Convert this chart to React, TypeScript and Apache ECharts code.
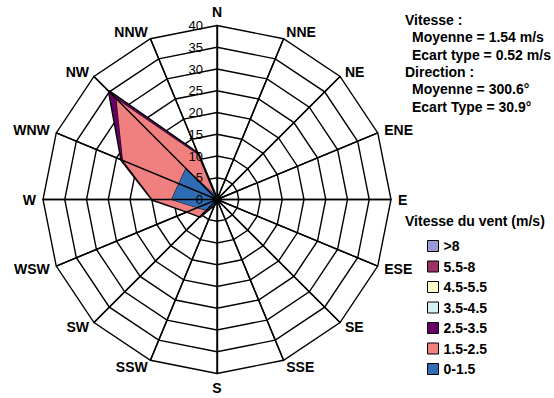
import React, { useEffect, useRef } from "react";
import * as echarts from "echarts";

// Directions, clockwise from North
const directions = ["N", "NNE", "NE", "ENE", "E", "ESE", "SE", "SSE", "S", "SSW", "SW", "WSW", "W", "WNW", "NW", "NNW"];

// Speed classes (legend order, top to bottom)
const speedBins = [">8", "5.5-8", "4.5-5.5", "3.5-4.5", "2.5-3.5", "1.5-2.5", "0-1.5"];
const binColors = ["#9a9ad8", "#993366", "#ffffcc", "#d4f0f0", "#660066", "#f08080", "#2f6db5"];

// Frequencies (%) per direction (clockwise from N) for each speed class
const freq0to15 = [0, 0, 0, 0, 0, 0, 0, 0, 0, 1, 3.5, 4.9, 10.4, 9.5, 10.1, 1];
const freq15to25 = [0, 0, 0, 0, 0, 0, 0, 0, 0, 0, 2, 2.4, 4.4, 13.9, 22.6, 10];
const freq25to35 = [0, 0, 0, 0, 0, 0, 0, 0, 0, 0, 0, 0, 0, 0.3, 2.3, 0.4];
const freq35to45 = [0, 0, 0, 0, 0, 0, 0, 0, 0, 0, 0, 0, 0, 0, 0, 0];
const freq45to55 = [0, 0, 0, 0, 0, 0, 0, 0, 0, 0, 0, 0, 0, 0, 0, 0];
const freq55to8 = [0, 0, 0, 0, 0, 0, 0, 0, 0, 0, 0, 0, 0, 0, 0, 0];
const freqAbove8 = [0, 0, 0, 0, 0, 0, 0, 0, 0, 0, 0, 0, 0, 0, 0, 0];

const radiusMax = 40;
const radiusStep = 5;

const statsLines = [
  { text: "Vitesse :", indent: false },
  { text: "Moyenne = 1.54 m/s", indent: true },
  { text: "Ecart type = 0.52 m/s", indent: true },
  { text: "Direction :", indent: false },
  { text: "Moyenne = 300.6°", indent: true },
  { text: "Ecart Type = 30.9°", indent: true },
];
const legendTitle = "Vitesse du vent (m/s)";

const FONT = "'Liberation Sans', Arial, Helvetica, sans-serif";

export default function App() {
  const ref = useRef<HTMLDivElement>(null);

  useEffect(() => {
    if (!ref.current) return;
    const chart = echarts.init(ref.current, null, { renderer: "svg" });

    // bottom-up order of bins
    const bottomUp = [freq0to15, freq15to25, freq25to35, freq35to45, freq45to55, freq55to8, freqAbove8];
    const bottomUpNames = [...speedBins].reverse();
    const bottomUpColors = [...binColors].reverse();
    const cumulative: number[][] = [];
    bottomUp.forEach((arr, k) => {
      cumulative.push(arr.map((v, i) => v + (k > 0 ? cumulative[k - 1][i] : 0)));
    });
    // radar places indicators counter-clockwise: reorder to get clockwise compass
    const toCCW = <T,>(arr: T[]): T[] => [arr[0], ...arr.slice(1).reverse()];

    const cx = 217;
    const cy = 199.5;
    const R = 174;

    const series: any[] = [];
    for (let k = bottomUp.length - 1; k >= 0; k--) {
      series.push({
        type: "radar",
        name: bottomUpNames[k],
        symbol: "none",
        z: 2,
        lineStyle: { color: "#000", width: k === bottomUp.length - 1 ? 3 : 1 },
        areaStyle: { color: bottomUpColors[k], opacity: 1 },
        itemStyle: { color: bottomUpColors[k], borderColor: "#000", borderWidth: 1 },
        data: [{ name: bottomUpNames[k], value: toCCW(cumulative[k]) }],
      });
    }

    chart.setOption({
      animation: false,
      backgroundColor: "#fff",
      radar: {
        center: [cx, cy],
        radius: R,
        startAngle: 90,
        splitNumber: radiusMax / radiusStep,
        shape: "polygon",
        nameGap: 7,
        indicator: toCCW(directions).map((name) => ({ name, min: 0, max: radiusMax })),
        axisName: { color: "#000", fontWeight: "bold", fontSize: 14, fontFamily: FONT },
        splitLine: { lineStyle: { color: "#000", width: 1.4 } },
        splitArea: { show: false },
        axisLine: { lineStyle: { color: "#000", width: 1.4 } },
        axisTick: { show: false },
        axisLabel: { show: false },
        z: 0,
      },
      polar: { center: [cx, cy], radius: R },
      angleAxis: {
        type: "value",
        min: 0,
        max: 360,
        interval: 22.5,
        startAngle: 90,
        axisLine: { show: false },
        axisTick: { show: false },
        axisLabel: { show: false },
        splitLine: { show: true, lineStyle: { color: "#000", width: 1.4 } },
        z: 10,
      },
      radiusAxis: {
        type: "value",
        min: 0,
        max: radiusMax,
        interval: radiusStep,
        axisLine: { show: false },
        axisTick: { show: false },
        splitLine: { show: false },
        axisLabel: { color: "#000", fontSize: 13, margin: 14, fontFamily: FONT },
        z: 10,
      },
      legend: {
        data: speedBins,
        orient: "vertical",
        left: 422,
        top: 234,
        itemWidth: 11,
        itemHeight: 11,
        itemGap: 6.5,
        icon: "rect",
        selectedMode: false,
        textStyle: { fontSize: 14, fontWeight: "bold", color: "#000", fontFamily: FONT },
        itemStyle: { borderColor: "#000", borderWidth: 1 },
      },
      graphic: [
        ...statsLines.map((l, i) => ({
          type: "text",
          x: l.indent ? 412 : 405,
          y: [20, 37, 55, 72, 89, 107][i],
          style: {
            text: l.text,
            fill: "#000",
            font: `bold 14px ${FONT}`,
            textVerticalAlign: "middle",
          },
        })),
        {
          type: "text",
          x: 405,
          y: 221,
          style: {
            text: legendTitle,
            fill: "#000",
            font: `bold 14px ${FONT}`,
            textVerticalAlign: "middle",
          },
        },
      ],
      series,
    });

    return () => chart.dispose();
  }, []);

  return (
    <div
      ref={ref}
      style={{ position: "fixed", left: 0, top: 0, width: 554, height: 398 }}
    />
  );
}
